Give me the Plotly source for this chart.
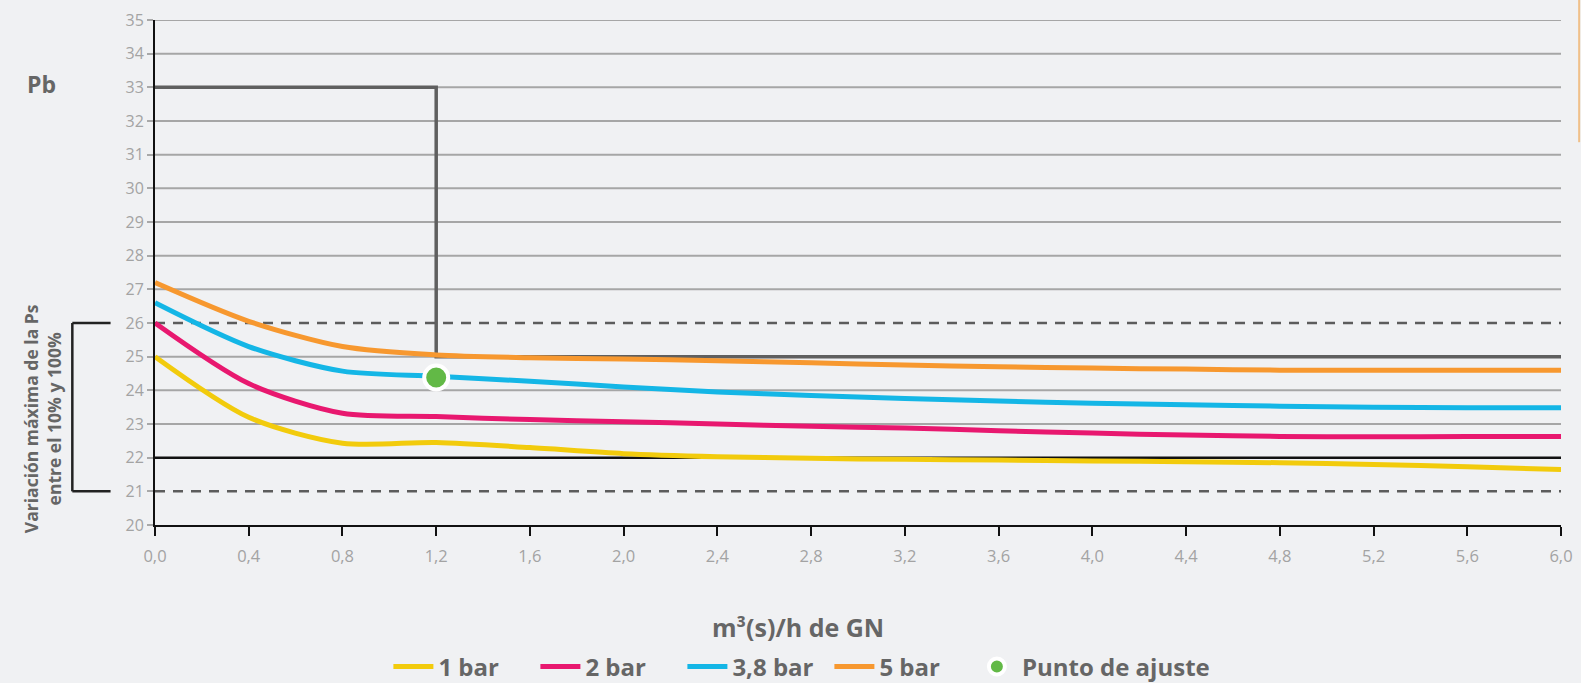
import plotly.graph_objects as go

x_vals = [0.0, 0.4, 0.8, 1.2, 1.6, 2.0, 2.4, 2.8, 3.2, 3.6, 4.0, 4.4, 4.8, 5.2, 5.6, 6.0]
bar1 = [25.0, 23.2, 22.43, 22.45, 22.3, 22.12, 22.03, 21.98, 21.95, 21.93, 21.9, 21.88, 21.85, 21.8, 21.73, 21.65]
bar2 = [26.0, 24.2, 23.32, 23.22, 23.13, 23.07, 23.0, 22.93, 22.88, 22.8, 22.73, 22.67, 22.63, 22.62, 22.63, 22.63]
bar38 = [26.6, 25.3, 24.57, 24.42, 24.27, 24.1, 23.95, 23.85, 23.76, 23.68, 23.62, 23.57, 23.53, 23.5, 23.48, 23.48]
bar5 = [27.2, 26.05, 25.3, 25.05, 24.97, 24.93, 24.88, 24.82, 24.75, 24.7, 24.66, 24.63, 24.6, 24.6, 24.6, 24.6]
step_x = [0.0, 1.2, 1.2, 6.0]
step_y = [33, 33, 25, 25]
ajuste_x = [1.2]
ajuste_y = [24.38]
x_ticks = [0.0, 0.4, 0.8, 1.2, 1.6, 2.0, 2.4, 2.8, 3.2, 3.6, 4.0, 4.4, 4.8, 5.2, 5.6, 6.0]
x_tick_labels = ["0,0", "0,4", "0,8", "1,2", "1,6", "2,0", "2,4", "2,8", "3,2", "3,6", "4,0", "4,4", "4,8", "5,2", "5,6", "6,0"]
y_ticks = list(range(20, 36))
dashed_levels = [26, 21]
solid_level = [22]

FONT = "Open Sans"
GREY = "#666666"

fig = go.Figure()

fig.add_trace(go.Scatter(x=step_x, y=step_y, mode="lines", line=dict(color="#5f5f5f", width=3.5),
                         showlegend=False, hoverinfo="skip"))

series = [("1 bar", bar1, "#f2cb0c"), ("2 bar", bar2, "#e8186f"),
          ("3,8 bar", bar38, "#14b6e6"), ("5 bar", bar5, "#f7982f")]
for name, ys, col in series:
    fig.add_trace(go.Scatter(x=x_vals, y=ys, mode="lines", name=name, legend="legend",
                             line=dict(color=col, width=5, shape="spline", smoothing=0.8)))

fig.add_trace(go.Scatter(x=ajuste_x, y=ajuste_y, mode="markers", name="Punto de ajuste",
                         legend="legend2",
                         marker=dict(color="#62b946", size=24, line=dict(color="white", width=4))))

shapes = []
for v in y_ticks:
    if v in dashed_levels or v in solid_level or v == 20:
        continue
    shapes.append(dict(type="line", xref="paper", yref="y", x0=0, x1=1, y0=v, y1=v,
                       line=dict(color="#a6a6a6", width=2), layer="below"))
for v in dashed_levels:
    shapes.append(dict(type="line", xref="paper", yref="y", x0=0, x1=1, y0=v, y1=v,
                       line=dict(color="#5c5c5c", width=2.5, dash="10px,8px"), layer="below"))
for v in solid_level:
    shapes.append(dict(type="line", xref="paper", yref="y", x0=0, x1=1, y0=v, y1=v,
                       line=dict(color="#111111", width=2.5), layer="below"))
shapes += [
    # bracket
    dict(type="line", xref="paper", yref="y", x0=-0.0588, x1=-0.0588, y0=26, y1=21,
         line=dict(color="#222222", width=2.5)),
    dict(type="line", xref="paper", yref="y", x0=-0.0588, x1=-0.0316, y0=26, y1=26,
         line=dict(color="#222222", width=2.5)),
    dict(type="line", xref="paper", yref="y", x0=-0.0588, x1=-0.0316, y0=21, y1=21,
         line=dict(color="#222222", width=2.5)),
    # orange edge mark
    dict(type="line", xref="paper", yref="paper", x0=1.0129, x1=1.0129, y0=1.041, y1=0.758,
         line=dict(color="#f0c08a", width=2)),
]

annotations = [
    dict(text="<b>Pb</b>", xref="paper", yref="y", x=-0.0804, y=33.1, showarrow=False,
         xanchor="center", yanchor="middle",
         font=dict(family=FONT, size=23, color=GREY)),
    dict(text="<b>Variación máxima de la Ps<br>entre el 10% y 100%</b>", xref="paper", yref="y",
         x=-0.0795, y=23.15, textangle=-90, showarrow=False, xanchor="center", yanchor="middle",
         font=dict(family=FONT, size=17.5, color=GREY)),
    dict(text="<b>m³(s)/h de GN</b>", xref="paper", yref="paper", x=0.4575, y=-0.2018,
         xanchor="center", yanchor="middle",
         showarrow=False, font=dict(family=FONT, size=25, color=GREY)),
]

legend_font = dict(family=FONT, size=24, color=GREY, weight="bold")

fig.update_layout(
    width=1581, height=683,
    paper_bgcolor="#f0f1f3", plot_bgcolor="#f0f1f3",
    margin=dict(l=155, r=20, t=20, b=158, autoexpand=False),
    font=dict(family=FONT, color=GREY),
    shapes=shapes, annotations=annotations,
    showlegend=True,
    legend=dict(orientation="h", x=0.166, xanchor="left", y=-0.281, yanchor="middle",
                font=legend_font, itemwidth=40,
                entrywidth=92, entrywidthmode="pixels",
                bgcolor="rgba(0,0,0,0)", traceorder="normal"),
    legend2=dict(orientation="h", x=0.581, xanchor="left", y=-0.281, yanchor="middle",
                 font=legend_font, itemwidth=40,
                 bgcolor="rgba(0,0,0,0)"),
    xaxis=dict(range=[0, 6.0], tickvals=x_ticks, ticktext=x_tick_labels,
               showgrid=False, zeroline=False, showline=True, linecolor="#111111", linewidth=2,
               ticks="outside", ticklen=9, tickwidth=2, tickcolor="#111111",
               ticklabelstandoff=6,
               tickfont=dict(family=FONT, size=16.5, color="#a3a3a3")),
    yaxis=dict(range=[20, 35], tickvals=y_ticks, showgrid=False,
               zeroline=False, showline=True, linecolor="#111111", linewidth=2,
               ticks="outside", ticklen=6, tickwidth=1.5, tickcolor="#a8a8a8",
               tickfont=dict(family=FONT, size=16, color="#a3a3a3")),
)

fig.write_html("out.html", config={"displayModeBar": False},
               post_script="document.body.style.margin='0';document.body.style.background='#f0f1f3';")
